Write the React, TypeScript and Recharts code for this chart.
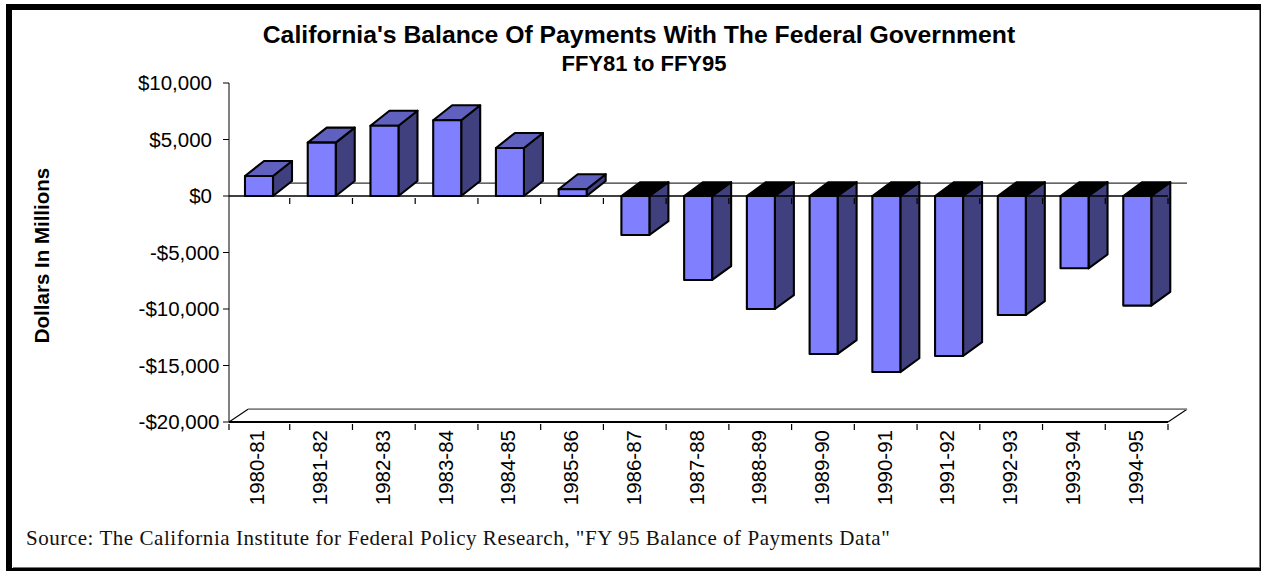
import { BarChart, Bar, XAxis, YAxis, ReferenceLine } from "recharts";

const years = [
  "1980-81", "1981-82", "1982-83", "1983-84", "1984-85",
  "1985-86", "1986-87", "1987-88", "1988-89", "1989-90",
  "1990-91", "1991-92", "1992-93", "1993-94", "1994-95",
];
const balances = [
  1770, 4720, 6220, 6700, 4250,
  600, -3450, -7430, -10000, -13980,
  -15580, -14160, -10530, -6400, -9700,
];
const yTicks = [10000, 5000, 0, -5000, -10000, -15000, -20000];

const data = years.map((year, i) => ({ year, balance: balances[i] }));

const FONT = '"Liberation Sans", Arial, sans-serif';
const DX = 19;
const WALL_DY = 12.8;
const BAND = 62.74;
const ZERO_TO_FLOOR = 226;

const formatMoney = (v: number) =>
  (v < 0 ? "-$" : "$") + Math.abs(v).toLocaleString("en-US");

const Box3D = (props: any) => {
  const { x, y, width, height, payload } = props;
  const left = x + 1;
  const top = Math.min(y, y + height);
  const bottom = Math.max(y, y + height);
  const right = left + width;
  const negative = payload.balance < 0;
  const dy = negative ? 13.8 : 15;
  const edge = { stroke: "#000", strokeWidth: 2.1, strokeLinejoin: "round" as const };
  return (
    <g>
      <polygon
        points={`${right},${top} ${right + DX},${top - dy} ${right + DX},${bottom - dy} ${right},${bottom}`}
        fill="#40407f"
        {...edge}
      />
      <polygon
        points={`${left},${top} ${left + DX},${top - dy} ${right + DX},${top - dy} ${right},${top}`}
        fill={negative ? "#000" : "#6060bf"}
        {...edge}
      />
      <rect x={left} y={top} width={width} height={bottom - top} fill="#8080ff" {...edge} />
    </g>
  );
};

const YearTick = (props: any) => {
  const { x, y, index, payload } = props;
  const edge = x + BAND / 2;
  return (
    <g>
      {index === 0 && <line x1={229} x2={229} y1={y - 6} y2={y} stroke="#000" strokeWidth={1.2} />}
      <line x1={edge} x2={edge} y1={y - 6} y2={y} stroke="#000" strokeWidth={1.2} />
      <line
        x1={edge}
        x2={edge}
        y1={y - 6 - ZERO_TO_FLOOR}
        y2={y - ZERO_TO_FLOOR}
        stroke="#000"
        strokeWidth={1.2}
      />
      <text
        transform={`translate(${x + 6},${y}) rotate(-90)`}
        textAnchor="end"
        fontFamily={FONT}
        fontSize={20.5}
        fill="#000"
      >
        {payload.value}
      </text>
    </g>
  );
};

// positive labels sit further from the axis than negative ones in the original
const MoneyTick = (props: any) => {
  const { y, payload } = props;
  const v = payload.value;
  return (
    <text
      x={v < 0 ? 219.5 : 212}
      y={y}
      dy="0.355em"
      textAnchor="end"
      fontFamily={FONT}
      fontSize={20.5}
      fill="#000"
    >
      {formatMoney(v)}
    </text>
  );
};

const BackWall = (props: any) => {
  const { x2, y1 } = props;
  return <line x1={229 + DX} x2={x2 + DX} y1={y1 - WALL_DY} y2={y1 - WALL_DY} stroke="#333" strokeWidth={1.2} />;
};

const Floor = (props: any) => {
  const { x2, y1 } = props;
  return (
    <g>
      <line x1={229} y1={y1} x2={229 + DX} y2={y1 - WALL_DY} stroke="#000" strokeWidth={1.1} />
      <line x1={x2} y1={y1} x2={x2 + DX} y2={y1 - WALL_DY} stroke="#000" strokeWidth={1.1} />
      <line x1={229 + DX} x2={x2 + DX} y1={y1 - WALL_DY} y2={y1 - WALL_DY} stroke="#808080" strokeWidth={1.8} />
    </g>
  );
};

export default function App() {
  return (
    <div style={{ position: "absolute", left: 0, top: 0, width: 1261, height: 571, background: "#fff", overflow: "hidden" }}>
      <BarChart
        width={1261}
        height={571}
        data={data}
        barSize={28}
        margin={{ top: 83, right: 93, bottom: 0, left: 0 }}
      >
        <ReferenceLine y={-20000} shape={Floor} zIndex={100} />
        <ReferenceLine y={0} shape={BackWall} zIndex={100} />
        <XAxis
          dataKey="year"
          height={149}
          interval={0}
          padding={{ left: -2, right: 0 }}
          tickLine={false}
          axisLine={{ stroke: "#000", strokeWidth: 2 }}
          tick={<YearTick />}
        />
        <YAxis
          width={229}
          domain={[-20000, 10000]}
          ticks={yTicks}
          interval={0}
          tickSize={6}
          tick={<MoneyTick />}
          stroke="#000"
          label={{
            value: "Dollars In Millions",
            angle: -90,
            position: "insideLeft",
            offset: 0,
            dx: 42,
            dy: 3,
            style: { fontFamily: FONT, fontSize: 20.5, fontWeight: 700, fill: "#000", textAnchor: "middle" },
          }}
        />
        <Bar dataKey="balance" isAnimationActive={false} shape={<Box3D />} />
        <ReferenceLine y={0} stroke="#000" strokeWidth={1.4} />
      </BarChart>

      <div style={{ position: "absolute", left: 0, width: 1278, top: 20, textAlign: "center", fontFamily: FONT, fontWeight: 700, fontSize: 24.75, lineHeight: "30px", color: "#000", whiteSpace: "nowrap" }}>
        California's Balance Of Payments With The Federal Government
      </div>
      <div style={{ position: "absolute", left: 0, width: 1288, top: 51, textAlign: "center", fontFamily: FONT, fontWeight: 700, fontSize: 22, lineHeight: "26px", color: "#000" }}>
        FFY81 to FFY95
      </div>
      <div style={{ position: "absolute", left: 26, top: 526, fontFamily: '"Liberation Serif", serif', fontSize: 21, letterSpacing: 0.55, lineHeight: "24px", color: "#111", whiteSpace: "nowrap" }}>
        Source: The California Institute for Federal Policy Research, "FY 95 Balance of Payments Data"
      </div>

      <div style={{ position: "absolute", left: 6, top: 4, width: 1255, height: 567, boxSizing: "border-box", borderStyle: "solid", borderColor: "#000", borderWidth: "6px 1.5px 3px 6.5px", pointerEvents: "none" }} />
      <div style={{ position: "absolute", left: 12.5, top: 566.5, width: 1247, height: 1, background: "#777" }} />
      <div style={{ position: "absolute", left: 1258.5, top: 10, width: 1, height: 557, background: "#777" }} />
    </div>
  );
}
